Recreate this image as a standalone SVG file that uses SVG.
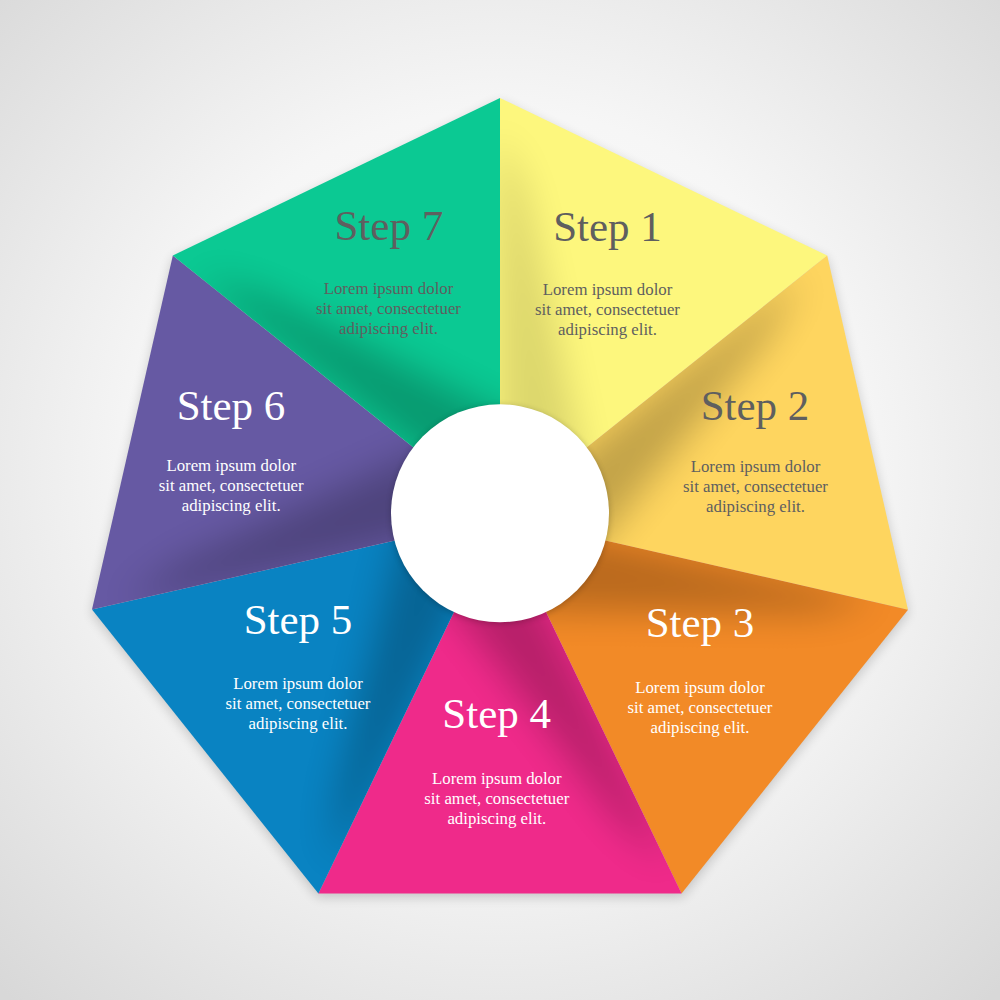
<svg xmlns="http://www.w3.org/2000/svg" xmlns:xlink="http://www.w3.org/1999/xlink" width="1000" height="1000" viewBox="0 0 1000 1000">
  <defs>
    <radialGradient id="bg" gradientUnits="userSpaceOnUse" cx="500" cy="470" r="720">
      <stop offset="0" stop-color="#ffffff"/>
      <stop offset="0.5" stop-color="#f6f6f6"/>
      <stop offset="1" stop-color="#d8d8d8"/>
    </radialGradient>
    <polygon id="wedge" points="500,516.5 500,98 827.2,255.6"/>
    <polygon id="shade" points="500,516.5 498,130 525,190 595,516.5"/>
    <clipPath id="wc">
      <use xlink:href="#wedge"/>
    </clipPath>
    <filter id="blur" filterUnits="userSpaceOnUse" x="0" y="0" width="1000" height="1000">
      <feGaussianBlur stdDeviation="18"/>
    </filter>
    <filter id="soft" x="-10%" y="-10%" width="120%" height="120%">
      <feGaussianBlur stdDeviation="6"/>
    </filter>
    <filter id="csh" x="-20%" y="-20%" width="140%" height="140%">
      <feGaussianBlur stdDeviation="3"/>
    </filter>
    <style>
      .title { font-family: "Liberation Serif", "Times New Roman", serif; font-size: 43px; text-anchor: middle; }
      .body { font-family: "Liberation Serif", "Times New Roman", serif; font-size: 16.8px; text-anchor: middle; }
      .g { fill: #5f5f5f; }
      .w { fill: #ffffff; }
      .sh { fill: #000000; opacity: 0.23; }
    </style>
  </defs>

  <rect x="0" y="0" width="1000" height="1000" fill="url(#bg)"/>

  <!-- outer soft shadow -->
  <polygon points="500,98 827.2,255.6 908,609.3 682,893 318,893 92,609.3 172.8,255.6" fill="#000" opacity="0.18" filter="url(#soft)" transform="translate(0,4)"/>

  <g id="step1">
    <g transform="rotate(0 500 516.5)">
      <use xlink:href="#wedge" fill="#FDF77D"/>
      <g clip-path="url(#wc)"><use xlink:href="#shade" class="sh" filter="url(#blur)" style="opacity:0.13"/></g>
    </g>
    <text class="title g" x="607.5" y="241">Step 1</text>
    <text class="body g" x="607.5" y="295">Lorem ipsum dolor</text>
    <text class="body g" x="607.5" y="315">sit amet, consectetuer</text>
    <text class="body g" x="607.5" y="335">adipiscing elit.</text>
  </g>

  <g id="step2">
    <g transform="rotate(51.428571 500 516.5)">
      <use xlink:href="#wedge" fill="#FED55F"/>
      <g clip-path="url(#wc)"><use xlink:href="#shade" class="sh" filter="url(#blur)"/></g>
    </g>
    <text class="title g" x="755" y="420">Step 2</text>
    <text class="body g" x="755.5" y="471.7">Lorem ipsum dolor</text>
    <text class="body g" x="755.5" y="491.7">sit amet, consectetuer</text>
    <text class="body g" x="755.5" y="511.7">adipiscing elit.</text>
  </g>

  <g id="step3">
    <g transform="rotate(102.857143 500 516.5)">
      <use xlink:href="#wedge" fill="#F28A27"/>
      <g clip-path="url(#wc)"><use xlink:href="#shade" class="sh" filter="url(#blur)"/></g>
    </g>
    <text class="title w" x="700" y="637">Step 3</text>
    <text class="body w" x="700" y="692.7">Lorem ipsum dolor</text>
    <text class="body w" x="700" y="712.7">sit amet, consectetuer</text>
    <text class="body w" x="700" y="732.7">adipiscing elit.</text>
  </g>

  <g id="step4">
    <g transform="rotate(154.285714 500 516.5)">
      <use xlink:href="#wedge" fill="#EF2A8A"/>
      <g clip-path="url(#wc)"><use xlink:href="#shade" class="sh" filter="url(#blur)"/></g>
    </g>
    <text class="title w" x="496.7" y="728">Step 4</text>
    <text class="body w" x="496.8" y="784">Lorem ipsum dolor</text>
    <text class="body w" x="496.8" y="804">sit amet, consectetuer</text>
    <text class="body w" x="496.8" y="824">adipiscing elit.</text>
  </g>

  <g id="step5">
    <g transform="rotate(205.714286 500 516.5)">
      <use xlink:href="#wedge" fill="#0983C2"/>
      <g clip-path="url(#wc)"><use xlink:href="#shade" class="sh" filter="url(#blur)"/></g>
    </g>
    <text class="title w" x="298" y="634.3">Step 5</text>
    <text class="body w" x="298" y="689.3">Lorem ipsum dolor</text>
    <text class="body w" x="298" y="709.3">sit amet, consectetuer</text>
    <text class="body w" x="298" y="729.3">adipiscing elit.</text>
  </g>

  <g id="step6">
    <g transform="rotate(257.142857 500 516.5)">
      <use xlink:href="#wedge" fill="#6659A3"/>
      <g clip-path="url(#wc)"><use xlink:href="#shade" class="sh" filter="url(#blur)"/></g>
    </g>
    <text class="title w" x="231" y="420">Step 6</text>
    <text class="body w" x="231.2" y="470.7">Lorem ipsum dolor</text>
    <text class="body w" x="231.2" y="490.7">sit amet, consectetuer</text>
    <text class="body w" x="231.2" y="510.7">adipiscing elit.</text>
  </g>

  <g id="step7">
    <g transform="rotate(308.571429 500 516.5)">
      <use xlink:href="#wedge" fill="#0BC993"/>
      <g clip-path="url(#wc)"><use xlink:href="#shade" class="sh" filter="url(#blur)"/></g>
    </g>
    <text class="title g" x="388.8" y="240">Step 7</text>
    <text class="body g" x="388.5" y="294.3">Lorem ipsum dolor</text>
    <text class="body g" x="388.5" y="314.3">sit amet, consectetuer</text>
    <text class="body g" x="388.5" y="334.3">adipiscing elit.</text>
  </g>

  <g id="hub">
    <circle cx="500" cy="514.5" r="109" fill="#000" opacity="0.22" filter="url(#csh)"/>
    <circle cx="500" cy="513.3" r="109" fill="#ffffff"/>
  </g>
</svg>
